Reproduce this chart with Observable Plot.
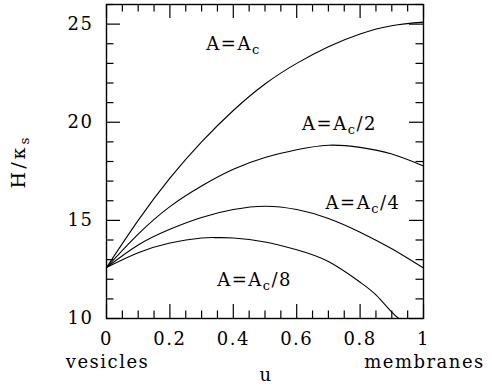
<!DOCTYPE html>
<html><head><meta charset="utf-8">
<script src="https://cdn.jsdelivr.net/npm/d3@7"></script>
<script src="https://cdn.jsdelivr.net/npm/@observablehq/plot@0.6"></script>
<style>body{margin:0;background:#fff}</style>
</head><body><div id="chart"></div>
<script>
// ---- data ----
const seriesNames = ["A=A_c", "A=A_c/2", "A=A_c/4", "A=A_c/8"];
const uFull = [0, 0.1, 0.2, 0.3, 0.4, 0.5, 0.6, 0.7, 0.8, 0.9, 1.0];
const hAc  = [12.6, 15.0, 17.15, 19.0, 20.6, 21.95, 23.0, 23.85, 24.5, 24.92, 25.1];
const hAc2 = [12.6, 14.3, 15.7, 16.75, 17.6, 18.2, 18.6, 18.83, 18.72, 18.38, 17.77];
const hAc4 = [12.6, 13.75, 14.55, 15.15, 15.55, 15.72, 15.55, 15.1, 14.4, 13.55, 12.57];
const u8   = [0, 0.1, 0.2, 0.3, 0.35, 0.4, 0.5, 0.6, 0.7, 0.8, 0.85, 0.9, 0.922];
const hAc8 = [12.6, 13.35, 13.85, 14.1, 14.12, 14.1, 13.9, 13.5, 12.9, 11.85, 11.2, 10.32, 10.0];

const labelU = [0.315, 0.617, 0.691, 0.349];
const labelH = [23.67, 19.59, 15.56, 11.65];

const xTicks = [0, 0.2, 0.4, 0.6, 0.8, 1];
const yTicks = [10, 15, 20, 25];
const xMinor = [0.05, 0.1, 0.15, 0.25, 0.3, 0.35, 0.45, 0.5, 0.55, 0.65, 0.7, 0.75, 0.85, 0.9, 0.95];
const yMinor = [11, 12, 13, 14, 16, 17, 18, 19, 21, 22, 23, 24, 26];

const yTitle = ["H/κ_s"];
const yTitleH = [18.0];
const xNotes = ["vesicles", "membranes"];
const xNotesU = [0, 1];
const xTitle = ["u"];
const xTitleU = [0.5];

// ---- build rows ----
const rows = [];
[[uFull, hAc], [uFull, hAc2], [uFull, hAc4], [u8, hAc8]].forEach(([us, hs], i) => {
  us.forEach((u, j) => rows.push({u, h: hs[j], s: seriesNames[i]}));
});
const labels = seriesNames.map((s, i) => ({s, u: labelU[i], h: labelH[i]}));

const plotW = 492, plotH = 388, mL = 106, mR = 69, mT = 4, mB = 70;
const innerW = plotW - mL - mR, innerH = plotH - mT - mB;
const xDom = [0, 1], yDom = [10, 26];
const pxX = (xDom[1] - xDom[0]) / innerW, pxY = (yDom[1] - yDom[0]) / innerH;
const major = 14, minor = 7.5;

const chart = Plot.plot({
  width: plotW, height: plotH,
  marginLeft: mL, marginRight: mR, marginTop: mT, marginBottom: mB,
  style: {fontFamily: "'DejaVu Serif', serif", fontSize: "18px", letterSpacing: "1.5px", color: "#000", background: "#fff", overflow: "visible"},
  x: {domain: xDom, ticks: xTicks, tickSize: 0, tickPadding: 14, tickFormat: d => String(d), label: null},
  y: {domain: yDom, ticks: yTicks, tickSize: 0, tickPadding: 13, tickFormat: d => String(d), label: null},
  marks: [
    // inward ticks on all four sides
    Plot.ruleX(xTicks, {x: d => d, y1: 10, y2: 10 + major * pxY, stroke: "#000", strokeWidth: 1.2}),
    Plot.ruleX(xMinor, {x: d => d, y1: 10, y2: 10 + minor * pxY, stroke: "#000", strokeWidth: 1.2}),
    Plot.ruleX(xTicks, {x: d => d, y1: 26 - major * pxY, y2: 26, stroke: "#000", strokeWidth: 1.2}),
    Plot.ruleX(xMinor, {x: d => d, y1: 26 - minor * pxY, y2: 26, stroke: "#000", strokeWidth: 1.2}),
    Plot.ruleY(yTicks, {y: d => d, x1: 0, x2: major * pxX, stroke: "#000", strokeWidth: 1.2}),
    Plot.ruleY(yMinor, {y: d => d, x1: 0, x2: minor * pxX, stroke: "#000", strokeWidth: 1.2}),
    Plot.ruleY(yTicks, {y: d => d, x1: 1 - major * pxX, x2: 1, stroke: "#000", strokeWidth: 1.2}),
    Plot.ruleY(yMinor, {y: d => d, x1: 1 - minor * pxX, x2: 1, stroke: "#000", strokeWidth: 1.2}),
    Plot.line(rows, {x: "u", y: "h", z: "s", stroke: "#000", strokeWidth: 1.1, curve: "natural"}),
    Plot.frame({stroke: "#000", strokeWidth: 1.4}),
    Plot.text(labels, {x: "u", y: "h", text: "s", textAnchor: "start", lineAnchor: "bottom", fill: "#000"}),
    Plot.text(xNotes, {x: (d, i) => xNotesU[i], frameAnchor: "bottom", text: d => d, textAnchor: "middle", lineAnchor: "bottom", dy: 49.5, dx: 1, fill: "#000"}),
    Plot.text(xTitle, {x: (d, i) => xTitleU[i], frameAnchor: "bottom", text: d => d, textAnchor: "middle", lineAnchor: "bottom", dy: 62.5, dx: 1, fill: "#000"}),
    Plot.text(yTitle, {y: (d, i) => yTitleH[i], frameAnchor: "left", text: d => d, rotate: -90, dx: -88, textAnchor: "middle", lineAnchor: "middle", fontSize: 19, fill: "#000"})
  ]
});

// subscripts
d3.select(chart).selectAll("text").each(function () {
  const t = this.textContent;
  const i = t.indexOf("_");
  if (i < 0) return;
  const sel = d3.select(this);
  sel.text(null);
  sel.append("tspan").text(t.slice(0, i));
  sel.append("tspan").attr("dy", 4).attr("font-size", "0.72em").text(t[i + 1]);
  if (i + 2 < t.length) sel.append("tspan").attr("dy", -4).text(t.slice(i + 2));
});
d3.select(chart).selectAll("text").filter(function () { return this.textContent === "H/κs"; }).style("letter-spacing", "3px");

document.getElementById("chart").appendChild(chart);
</script>
</body></html>
